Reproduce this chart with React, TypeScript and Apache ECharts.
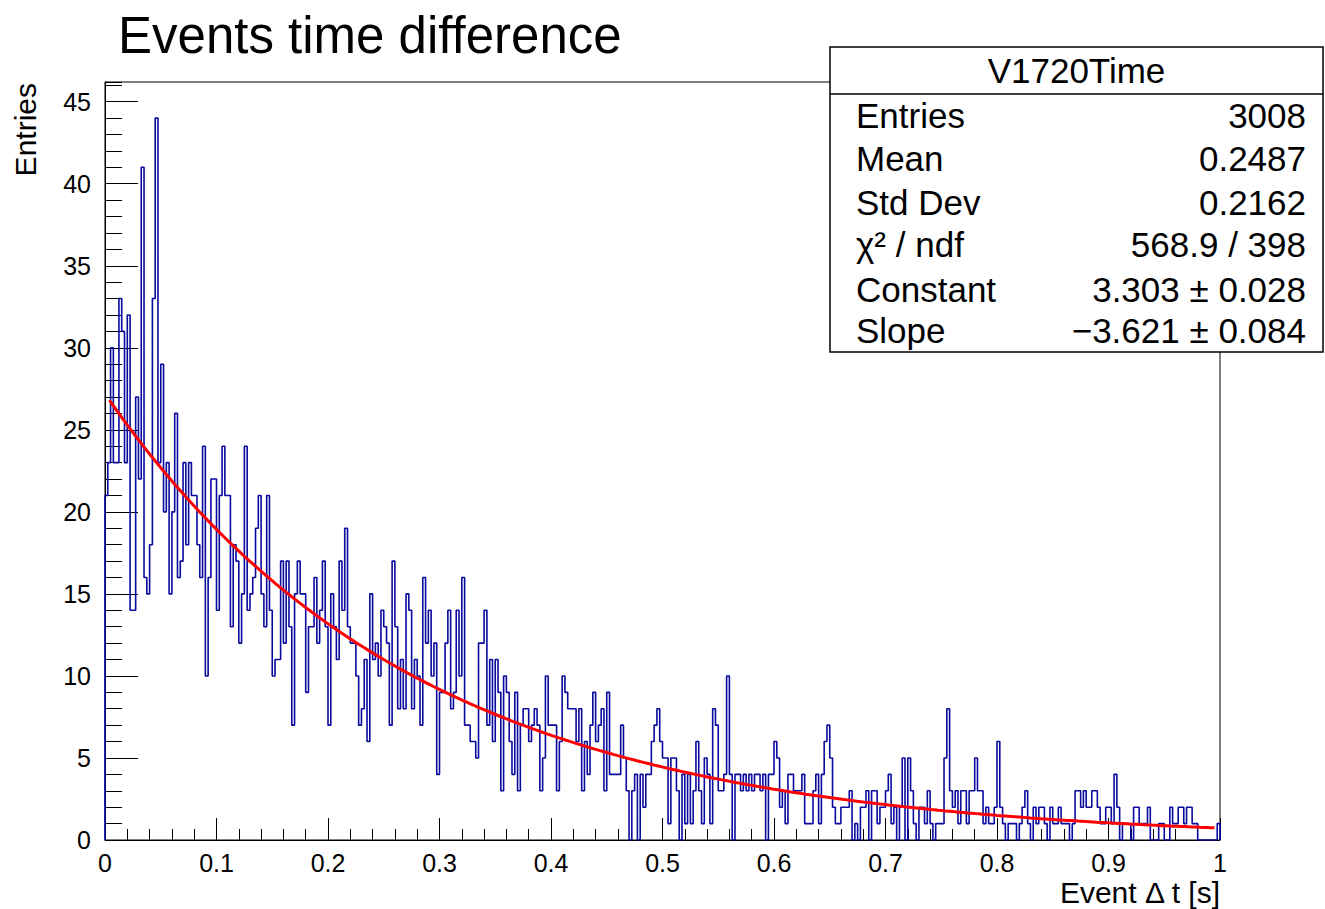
import React, { useEffect, useRef } from "react";
import * as echarts from "echarts";

// Histogram "V1720Time": 400 bins on [0, 1], width 0.0025. One array per 0.1 of Δt.
const binWidth = 0.0025;
const counts_00_01 = [21, 23, 30, 23, 23, 33, 31, 23, 32, 14, 14, 27, 22, 41, 16, 15, 18, 33, 44, 23, 29, 20, 23, 15, 20, 26, 16, 17, 23, 18, 23, 21, 21, 18, 16, 24, 10, 16, 22, 22];
const counts_01_02 = [14, 21, 24, 21, 21, 13, 18, 17, 12, 15, 24, 14, 15, 16, 19, 21, 15, 13, 21, 14, 10, 11, 11, 17, 12, 17, 13, 7, 15, 17, 15, 15, 9, 13, 13, 16, 12, 14, 17, 13];
const counts_02_03 = [7, 15, 13, 11, 17, 14, 19, 13, 12, 12, 10, 7, 8, 11, 6, 15, 11, 12, 10, 14, 13, 12, 7, 17, 13, 8, 11, 8, 15, 14, 8, 11, 10, 7, 16, 12, 14, 10, 12, 4];
const counts_03_04 = [9, 9, 12, 14, 8, 9, 14, 10, 16, 7, 7, 6, 6, 5, 12, 12, 14, 7, 11, 6, 11, 9, 3, 10, 9, 6, 4, 9, 3, 7, 8, 8, 6, 7, 8, 7, 3, 5, 10, 7];
const counts_04_05 = [7, 7, 3, 6, 10, 9, 8, 8, 8, 6, 8, 3, 6, 4, 7, 9, 6, 7, 8, 3, 9, 4, 4, 4, 4, 7, 5, 3, 0, 3, 4, 0, 4, 2, 4, 4, 6, 7, 8, 6];
const counts_05_06 = [5, 5, 1, 5, 5, 3, 0, 4, 1, 4, 1, 3, 6, 3, 1, 5, 4, 1, 8, 7, 3, 3, 4, 10, 4, 0, 4, 4, 3, 4, 3, 4, 3, 4, 4, 3, 4, 0, 4, 4];
const counts_06_07 = [6, 5, 2, 3, 1, 4, 4, 3, 3, 3, 4, 1, 1, 1, 3, 4, 1, 4, 6, 7, 5, 2, 1, 1, 2, 2, 2, 3, 0, 1, 0, 2, 2, 3, 0, 3, 3, 1, 2, 2];
const counts_07_08 = [3, 4, 1, 2, 0, 2, 5, 0, 5, 3, 1, 0, 2, 2, 1, 3, 1, 0, 1, 1, 1, 5, 8, 3, 2, 3, 1, 3, 3, 1, 3, 3, 5, 3, 3, 1, 2, 1, 1, 2];
const counts_08_09 = [6, 2, 1, 0, 1, 1, 1, 0, 1, 2, 3, 1, 0, 2, 1, 2, 2, 1, 0, 2, 1, 1, 2, 1, 1, 1, 0, 1, 3, 3, 2, 3, 2, 2, 3, 3, 2, 1, 1, 2];
const counts_09_10 = [2, 1, 4, 2, 0, 1, 1, 1, 0, 2, 2, 1, 1, 1, 2, 0, 0, 0, 1, 1, 0, 0, 2, 1, 1, 2, 2, 1, 2, 2, 1, 1, 0, 0, 0, 0, 0, 0, 0, 1];

// Exponential fit parameters (from the stats box): exp(Constant + Slope * x)
const fitConstant = 3.303;
const fitSlope = -3.621;
const fitRange = [0.004, 0.995];

const yAxisMax = 46.2;
const xLabelValues = [0, 0.1, 0.2, 0.3, 0.4, 0.5, 0.6, 0.7, 0.8, 0.9, 1];

const chartTitle = "Events time difference";
const xTitle = "Event \u0394 t [s]";
const yTitle = "Entries";
const statsTitle = "V1720Time";
const statsLabels = ["Entries", "Mean", "Std Dev", "\u03c7\u00b2 / ndf", "Constant", "Slope"];
const statsValues = ["3008", "0.2487", "0.2162", "568.9 / 398", "3.303 \u00b1 0.028", "\u22123.621 \u00b1 0.084"];

const FONT = "'Liberation Sans', Arial, Helvetica, sans-serif";

export default function App() {
  const ref = useRef<HTMLDivElement>(null);

  useEffect(() => {
    document.body.style.margin = "0";
    const chart = echarts.init(ref.current!, null, { renderer: "svg" });

    const counts = [
      ...counts_00_01, ...counts_01_02, ...counts_02_03, ...counts_03_04, ...counts_04_05,
      ...counts_05_06, ...counts_06_07, ...counts_07_08, ...counts_08_09, ...counts_09_10,
    ];
    const stepData: number[][] = [[0, 0]];
    counts.forEach((c, i) => stepData.push([i * binWidth, c]));
    stepData.push([counts.length * binWidth, counts[counts.length - 1]]);
    stepData.push([counts.length * binWidth, 0]);

    const fitData: number[][] = [];
    const nFit = 300;
    for (let k = 0; k <= nFit; k++) {
      const x = fitRange[0] + ((fitRange[1] - fitRange[0]) * k) / nFit;
      fitData.push([x, Math.exp(fitConstant + fitSlope * x)]);
    }

    const boxX = 830, boxY = 47, boxW = 493, boxH = 305;
    const rowY = [115, 158, 202, 244, 289, 330];
    const statsGraphics: any[] = [
      { type: "rect", z: 100, shape: { x: boxX, y: boxY, width: boxW, height: boxH }, style: { fill: "#fff", stroke: "#000", lineWidth: 1.5 } },
      { type: "line", z: 101, shape: { x1: boxX, y1: 94, x2: boxX + boxW, y2: 94 }, style: { stroke: "#000", lineWidth: 1.5 } },
      { type: "text", z: 101, x: boxX + boxW / 2, y: 70, style: { text: statsTitle, fontSize: 35, fontFamily: FONT, fill: "#000", align: "center", verticalAlign: "middle" } },
    ];
    statsLabels.forEach((lab, i) => {
      statsGraphics.push({ type: "text", z: 101, x: 856, y: rowY[i], style: { text: lab, fontSize: 35, fontFamily: FONT, fill: "#000", align: "left", verticalAlign: "middle" } });
      statsGraphics.push({ type: "text", z: 101, x: 1306, y: rowY[i], style: { text: statsValues[i], fontSize: 35, fontFamily: FONT, fill: "#000", align: "right", verticalAlign: "middle" } });
    });

    const option: any = {
      animation: false,
      backgroundColor: "#fff",
      grid: { left: 105, top: 82, width: 1115, height: 758, show: true, borderColor: "#000", borderWidth: 1, backgroundColor: "transparent" },
      xAxis: {
        type: "value", min: 0, max: 1, interval: 0.1,
        axisLine: { show: true, onZero: false, lineStyle: { color: "#000", width: 1 } },
        axisTick: { show: true, inside: true, length: 22, lineStyle: { color: "#000", width: 1 } },
        minorTick: { show: true, splitNumber: 5, length: 11, lineStyle: { color: "#000", width: 1 } },
        splitLine: { show: false },
        minorSplitLine: { show: false },
        axisLabel: {
          color: "#000", fontSize: 25, fontFamily: FONT, margin: 10,
          formatter: (v: number) => {
            const r = Math.round(v * 10) / 10;
            return xLabelValues.includes(r) ? String(r) : "";
          },
        },
      },
      yAxis: [
        {
          type: "value", position: "left", min: 0, max: yAxisMax, interval: 1,
          axisLine: { show: false },
          axisTick: { show: true, inside: true, length: 17, lineStyle: { color: "#000", width: 1 } },
          axisLabel: { show: false },
          splitLine: { show: false },
        },
        {
          type: "value", position: "left", offset: 0, min: 0, max: yAxisMax, interval: 5,
          axisLine: { show: true, onZero: false, lineStyle: { color: "#000", width: 1 } },
          axisTick: { show: true, inside: true, length: 33, lineStyle: { color: "#000", width: 1 } },
          axisLabel: { color: "#000", fontSize: 25, fontFamily: FONT, margin: 14, showMaxLabel: false },
          splitLine: { show: false },
        },
      ],
      series: [
        {
          type: "line", yAxisIndex: 1, data: stepData, step: "end", showSymbol: false, silent: true, z: 2,
          lineStyle: { color: "#0a0a9e", width: 1.6 },
        },
        {
          type: "line", yAxisIndex: 1, data: fitData, smooth: false, showSymbol: false, silent: true, z: 3,
          lineStyle: { color: "#ff0000", width: 3 },
        },
      ],
      graphic: [
        { type: "text", z: 100, x: 118, y: 35, style: { text: chartTitle, fontSize: 51, fontFamily: FONT, fill: "#000", align: "left", verticalAlign: "middle" } },
        { type: "text", z: 100, x: 25, y: 83, rotation: Math.PI / 2, style: { text: yTitle, fontSize: 30, fontFamily: FONT, fill: "#000", align: "right", verticalAlign: "middle" } },
        { type: "text", z: 100, x: 1220, y: 892, style: { text: xTitle, fontSize: 30, fontFamily: FONT, fill: "#000", align: "right", verticalAlign: "middle" } },
        ...statsGraphics,
      ],
    };

    chart.setOption(option);
    return () => chart.dispose();
  }, []);

  return <div ref={ref} style={{ width: 1325, height: 909 }} />;
}
